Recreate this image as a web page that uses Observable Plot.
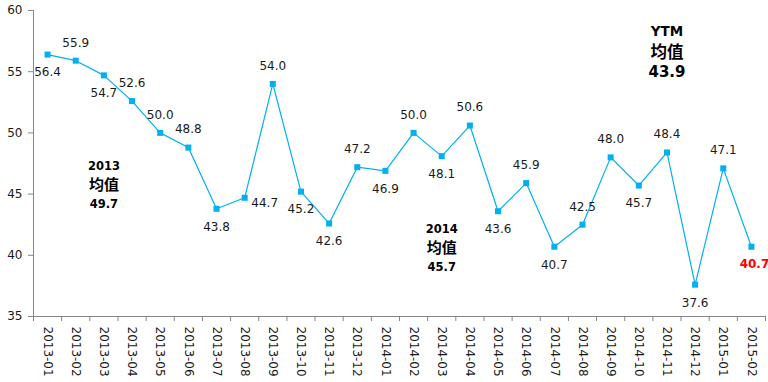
<!DOCTYPE html>
<html><head><meta charset="utf-8">
<script src="https://cdn.jsdelivr.net/npm/d3@7"></script>
<script src="https://cdn.jsdelivr.net/npm/@observablehq/plot@0.6"></script>
<style>body{margin:0;background:#fff;} svg{display:block;}</style>
</head><body><div id="chart"></div>
<script>
const months = ["2013-01","2013-02","2013-03","2013-04","2013-05","2013-06","2013-07","2013-08","2013-09","2013-10","2013-11","2013-12","2014-01","2014-02","2014-03","2014-04","2014-05","2014-06","2014-07","2014-08","2014-09","2014-10","2014-11","2014-12","2015-01","2015-02"];
const values = [56.4,55.9,54.7,52.6,50.0,48.8,43.8,44.7,54.0,45.2,42.6,47.2,46.9,50.0,48.1,50.6,43.6,45.9,40.7,42.5,48.0,45.7,48.4,37.6,47.1,40.7];
// label placement: a = above, b = below, r = right
const labelSide = ["b","a","b","a","a","a","b","r","a","b","b","a","b","a","b","a","b","a","b","a","a","b","a","b","a","b"];
const yTicks = [35,40,45,50,55,60];
const noteMonths = ["2013-03","2014-03","2014-11"];
const noteTop = [47.25, 42.1, 58.3];
const noteYear = ["2013","2014","YTM"];
const noteMean = ["49.7","45.7","43.9"];
const noteWord = "均值";

const data = months.map((m,i)=>({i, m, v: values[i], side: labelSide[i], last: i===months.length-1}));
const notes = noteMonths.map((m,k)=>({i: months.indexOf(m), y: noteTop[k], year: noteYear[k], mean: noteMean[k], big: k===2}));

const font = "DejaVu Sans, Verdana, sans-serif";
const cjk = "Noto Sans CJK SC, sans-serif";
const blue = "#00B0F0";
const axisGray = "#868686";
const fmt = d => d.toFixed(1);

const chart = Plot.plot({
  width: 768, height: 382,
  marginLeft: 33, marginRight: 3, marginTop: 10, marginBottom: 66,
  style: {fontFamily: font, fontSize: "11px", color: "#1a1a1a", background: "#fff"},
  x: {type: "linear", domain: [-0.5, months.length - 0.5], axis: null},
  y: {domain: [35, 60], axis: null},
  marks: [
    Plot.ruleX([-0.5], {stroke: axisGray}),
    Plot.ruleY([35], {stroke: axisGray}),
    Plot.axisY(yTicks, {anchor: "left", label: null, tickSize: 5, tickPadding: 6, stroke: axisGray, fontSize: 12, fill: "#1a1a1a"}),
    Plot.axisX(d3.range(-0.5, months.length, 1), {anchor: "bottom", label: null, tickSize: 5, tickFormat: () => "", stroke: axisGray}),
    Plot.axisX(d3.range(months.length), {anchor: "bottom", label: null, tickSize: 0, tickPadding: 10, tickRotate: 90, tickFormat: i => months[i], fontSize: 12, fill: "#1a1a1a"}),
    Plot.line(data, {x: "i", y: "v", stroke: blue, strokeWidth: 1.2}),
    Plot.dot(data, {x: "i", y: "v", symbol: "square", r: 3.4, fill: blue}),
    Plot.text(data.filter(d => d.side === "a"), {x: "i", y: "v", text: d => fmt(d.v), dy: -18, fontSize: 12, fill: "#1a1a1a"}),
    Plot.text(data.filter(d => d.side === "b" && !d.last), {x: "i", y: "v", text: d => fmt(d.v), dy: 18, fontSize: 12, fill: "#1a1a1a"}),
    Plot.text(data.filter(d => d.side === "r"), {x: "i", y: "v", text: d => fmt(d.v), dx: 20, dy: 5, fontSize: 12, fill: "#1a1a1a"}),
    Plot.text(data.filter(d => d.last), {x: "i", y: "v", text: d => fmt(d.v), dx: 3, dy: 17, fontSize: 12, fontWeight: "bold", fill: "#ff0000"}),
    Plot.text(notes.filter(d => !d.big), {x: "i", y: "y", text: "year", fontWeight: "bold", fontSize: 11.5, fill: "#000"}),
    Plot.text(notes.filter(d => !d.big), {x: "i", y: "y", text: () => noteWord, dy: 18.5, fontFamily: cjk, fontWeight: "bold", fontSize: 15, fill: "#000"}),
    Plot.text(notes.filter(d => !d.big), {x: "i", y: "y", text: "mean", dy: 38, fontWeight: "bold", fontSize: 11.5, fill: "#000"}),
    Plot.text(notes.filter(d => d.big), {x: "i", y: "y", text: "year", fontWeight: "bold", fontSize: 13.5, fill: "#000"}),
    Plot.text(notes.filter(d => d.big), {x: "i", y: "y", text: () => noteWord, dy: 21, fontFamily: cjk, fontWeight: "bold", fontSize: 16.5, fill: "#000"}),
    Plot.text(notes.filter(d => d.big), {x: "i", y: "y", text: "mean", dy: 41, fontWeight: "bold", fontSize: 15, fill: "#000"})
  ]
});
document.getElementById("chart").appendChild(chart);
</script>
</body></html>
